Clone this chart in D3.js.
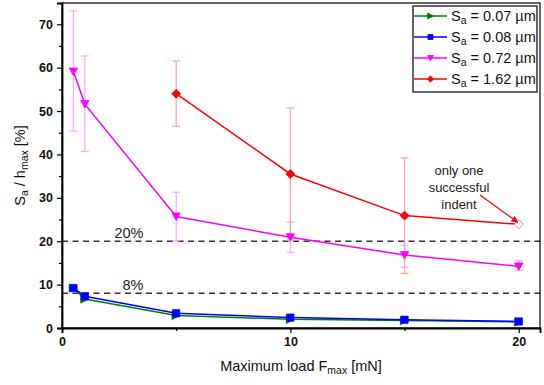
<!DOCTYPE html>
<html>
<head>
<meta charset="utf-8">
<script src="https://cdn.jsdelivr.net/npm/d3@7"></script>
<style>
  body { margin: 0; background: #fff; }
  svg { display: block; font-family: "Liberation Sans", Arial, sans-serif; }
</style>
</head>
<body>
<svg id="chart" width="544" height="385"></svg>
<script>
// Maximum load [mN]
const loads = [0.5, 1, 5, 10, 15, 20];
const loadsRough = [5, 10, 15, 20];

// Sa / hmax [%] per surface roughness
const sa007 = [9.2, 6.7, 2.9, 2.0, 1.7, 1.4];
const sa008 = [9.2, 7.3, 3.4, 2.4, 1.9, 1.5];
const sa072 = [59.1, 51.6, 25.7, 20.9, 16.8, 14.2];
const sa072Lo = [45.4, 40.7, 20.1, 17.4, 14.0, 13.3];
const sa072Hi = [73.1, 62.7, 31.3, 24.4, 19.1, 15.5];
const sa162 = [54.0, 35.5, 25.9, 23.9];
const sa162Lo = [46.5, 20.3, 12.6, null];
const sa162Hi = [61.5, 50.7, 39.2, null];

const xTicks = [0, 10, 20];
const xMinor = [5, 15];
const yTicks = [0, 10, 20, 30, 40, 50, 60, 70];
const yMinor = [5, 15, 25, 35, 45, 55, 65];
const refLines = [20, 8];
const legendLabels = ["0.07", "0.08", "0.72", "1.62"];

const svg = d3.select("#chart");
const L = 62, R = 540, T = 3, B = 328;
const x = d3.scaleLinear().domain([0, 20.93]).range([L, R]);
const y = d3.scaleLinear().domain([0, 74.9]).range([B, T]);

const series = [
  { name: legendLabels[0], xs: loads, ys: sa007, color: "#008000", sym: "right" },
  { name: legendLabels[1], xs: loads, ys: sa008, color: "#0000ff", sym: "square" },
  { name: legendLabels[2], xs: loads, ys: sa072, lo: sa072Lo, hi: sa072Hi, color: "#ff00ff", err: "#ffa6ff", sym: "down" },
  { name: legendLabels[3], xs: loadsRough, ys: sa162, lo: sa162Lo, hi: sa162Hi, color: "#ff0000", err: "#ffa3a3", sym: "diamond" }
];

function marker(g, sym, cx, cy, color, hollow, k = 1) {
  const s = 4.2 * k;
  let path;
  if (sym === "right") path = `M${cx - s},${cy - s}L${cx + s},${cy}L${cx - s},${cy + s}Z`;
  else if (sym === "square") path = `M${cx - 3.6 * k},${cy - 3.6 * k}h${7.2 * k}v${7.2 * k}h${-7.2 * k}Z`;
  else if (sym === "down") path = `M${cx - s},${cy - 3.5 * k}L${cx + s},${cy - 3.5 * k}L${cx},${cy + 4 * k}Z`;
  else path = `M${cx},${cy - 4.5 * k}L${cx + 4.5 * k},${cy}L${cx},${cy + 4.5 * k}L${cx - 4.5 * k},${cy}Z`;
  g.append("path").attr("d", path)
    .attr("fill", hollow ? "#fff" : color)
    .attr("stroke", hollow ? "#ff8080" : color)
    .attr("stroke-width", hollow ? 1 : 0.8);
}

// Reference lines
const refG = svg.append("g");
refLines.forEach(v => {
  refG.append("line").attr("x1", L).attr("x2", R).attr("y1", y(v)).attr("y2", y(v))
    .attr("stroke", "#333").attr("stroke-width", 1.6).attr("stroke-dasharray", "6,4.5");
});
refG.append("text").attr("x", 129).attr("y", y(20) - 3).attr("text-anchor", "middle")
  .attr("font-size", 14.5).attr("fill", "#222").text("20%");
refG.append("text").attr("x", 133).attr("y", y(8) - 3).attr("text-anchor", "middle")
  .attr("font-size", 14.5).attr("fill", "#222").text("8%");

// Error bars
const errG = svg.append("g");
series.filter(s => s.lo).forEach(s => {
  s.xs.forEach((xv, i) => {
    if (s.lo[i] == null) return;
    const cx = x(xv);
    errG.append("line").attr("x1", cx).attr("x2", cx).attr("y1", y(s.lo[i])).attr("y2", y(s.hi[i]))
      .attr("stroke", s.err).attr("stroke-width", 1.2);
    [s.lo[i], s.hi[i]].forEach(v => {
      errG.append("line").attr("x1", cx - 4).attr("x2", cx + 4).attr("y1", y(v)).attr("y2", y(v))
        .attr("stroke", s.err).attr("stroke-width", 1.2);
    });
  });
});

// Lines and markers
const line = d3.line().x(d => x(d[0])).y(d => y(d[1]));
series.forEach(s => {
  const g = svg.append("g");
  g.append("path").attr("d", line(s.xs.map((xv, i) => [xv, s.ys[i]])))
    .attr("fill", "none").attr("stroke", s.color).attr("stroke-width", 1.5);
  s.xs.forEach((xv, i) => {
    const hollow = s.sym === "diamond" && s.lo[i] == null;
    marker(g, s.sym, x(xv), y(s.ys[i]), s.color, hollow);
  });
});

// Annotation
const ann = svg.append("g").attr("font-size", 13).attr("fill", "#222").attr("text-anchor", "middle");
["only one", "successful", "indent"].forEach((t, i) => {
  ann.append("text").attr("x", 459).attr("y", 175 + i * 17).text(t);
});
svg.append("defs").append("marker").attr("id", "arr").attr("viewBox", "0 0 10 10")
  .attr("refX", 9).attr("refY", 5).attr("markerWidth", 7).attr("markerHeight", 7)
  .attr("orient", "auto").attr("markerUnits", "userSpaceOnUse")
  .append("path").attr("d", "M0,0L10,5L0,10Z").attr("fill", "#ff0000");
svg.append("line").attr("x1", 480).attr("y1", 195).attr("x2", x(20) - 1).attr("y2", y(sa162[3]) - 2)
  .attr("stroke", "#ff0000").attr("stroke-width", 1.2).attr("marker-end", "url(#arr)");

// Frame
svg.append("rect").attr("x", L).attr("y", T).attr("width", R - L).attr("height", B - T)
  .attr("fill", "none").attr("stroke", "#000").attr("stroke-width", 1.2);

// Axes
const xAxis = svg.append("g").attr("transform", `translate(0,${B})`)
  .call(d3.axisBottom(x).tickValues(xTicks).tickFormat(d3.format("d")).tickSize(5).tickPadding(4));
svg.append("g").attr("transform", `translate(0,${B})`)
  .call(d3.axisBottom(x).tickValues(xMinor).tickFormat("").tickSize(3))
  .call(g => g.select(".domain").remove());
const yAxis = svg.append("g").attr("transform", `translate(${L},0)`)
  .call(d3.axisLeft(y).tickValues(yTicks).tickFormat(d3.format("d")).tickSize(5).tickPadding(4));
svg.append("g").attr("transform", `translate(${L},0)`)
  .call(d3.axisLeft(y).tickValues(yMinor).tickFormat("").tickSize(3))
  .call(g => g.select(".domain").remove());
svg.selectAll(".tick line").attr("stroke", "#000").attr("stroke-width", 1.2);
svg.selectAll(".domain").attr("stroke", "#000").attr("stroke-width", 1.8);
[xAxis, yAxis].forEach(a => a.selectAll("text")
  .attr("font-size", 12.5).attr("font-weight", "bold").attr("fill", "#111")
  .attr("font-family", "Liberation Sans, Arial, sans-serif"));

// Axis titles
const xt = svg.append("text").attr("x", (L + R) / 2).attr("y", 371).attr("text-anchor", "middle")
  .attr("font-size", 14.5).attr("fill", "#111");
xt.append("tspan").text("Maximum load F");
xt.append("tspan").attr("font-size", 10.5).attr("dy", 3).text("max");
xt.append("tspan").attr("dy", -3).text(" [mN]");

const yt = svg.append("text").attr("transform", `translate(25,${(T + B) / 2}) rotate(-90)`)
  .attr("text-anchor", "middle").attr("font-size", 14.5).attr("fill", "#111");
yt.append("tspan").text("S");
yt.append("tspan").attr("font-size", 10.5).attr("dy", 3).text("a");
yt.append("tspan").attr("dy", -3).text(" / h");
yt.append("tspan").attr("font-size", 10.5).attr("dy", 3).text("max");
yt.append("tspan").attr("dy", -3).text(" [%]");

// Legend
const lg = svg.append("g");
lg.append("rect").attr("x", 413).attr("y", 6).attr("width", 124).attr("height", 86)
  .attr("fill", "#fff").attr("stroke", "#333").attr("stroke-width", 1.5);
series.forEach((s, i) => {
  const cy = 16 + i * 21;
  lg.append("line").attr("x1", 414).attr("x2", 447).attr("y1", cy).attr("y2", cy)
    .attr("stroke", s.color).attr("stroke-width", 1.5);
  marker(lg, s.sym, 430.5, cy, s.color, false, 0.7);
  const t = lg.append("text").attr("x", 451).attr("y", cy + 5).attr("font-size", 14.5).attr("fill", "#111");
  t.append("tspan").text("S");
  t.append("tspan").attr("font-size", 10.5).attr("dy", 3).text("a");
  t.append("tspan").attr("dy", -3).text(` = ${s.name} µm`);
});
</script>
</body>
</html>
